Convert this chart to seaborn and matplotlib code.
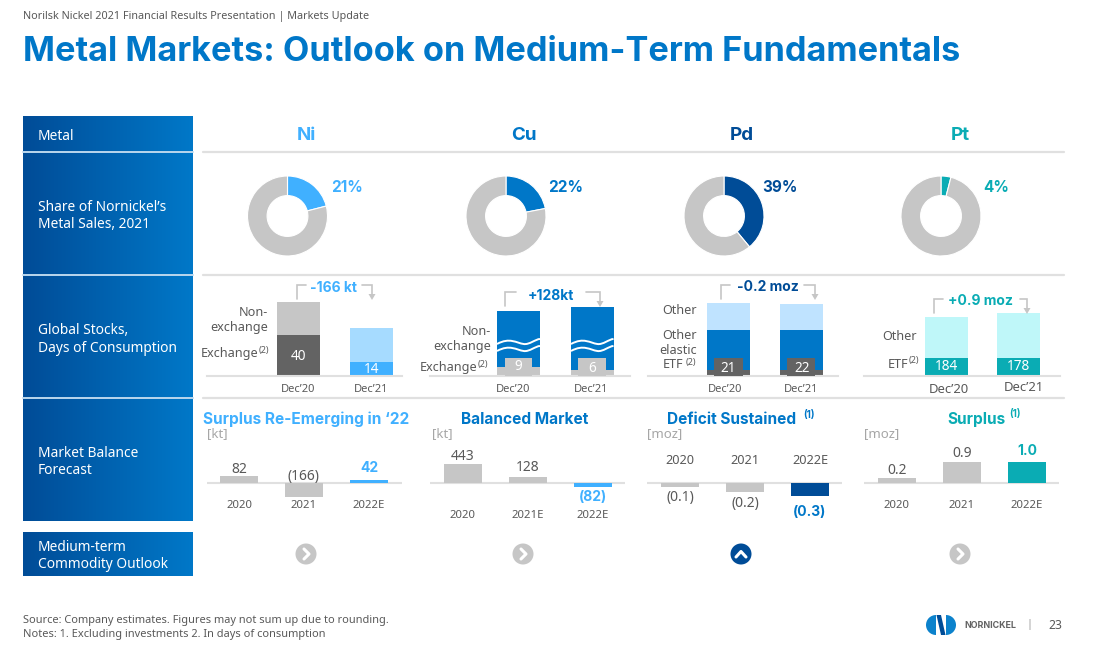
"""
Metal Markets slide: donuts, stocks stacks and balance bars per metal
Run: python plot.py
"""

import numpy as np
import matplotlib
matplotlib.use("Agg")
import matplotlib.pyplot as plt
import seaborn as sns
from matplotlib.patches import Circle, PathPatch, Polygon, Rectangle, Wedge
from matplotlib.path import Path
from matplotlib.transforms import ScaledTranslation

# ── Data ─────────────────────────────────────────────────────────────────────
metals = ["Ni", "Cu", "Pd", "Pt"]
sales_share = [21, 22, 39, 4]

stock_dates = ["Dec’20", "Dec’21"]
ni_exchange = [40, 14]
ni_non_exchange = [32, 33]
cu_exchange = [9, 6]
cu_non_exchange = [56, 63]
pd_etf = [21, 22]
pd_elastic = [148, 148]
pd_other = [100, 96]
pt_etf = [184, 178]
pt_other = [410, 455]

ni_years = ["2020", "2021", "2022E"]
cu_years = ["2020", "2021E", "2022E"]
pd_years = ["2020", "2021", "2022E"]
pt_years = ["2020", "2021", "2022E"]
ni_balance = [82, -166, 42]
cu_balance = [443, 128, -82]
pd_balance = [-0.1, -0.2, -0.3]
pt_balance = [0.2, 0.9, 1.0]
ni_balance_labels = ["82", "(166)", "42"]
cu_balance_labels = ["443", "128", "(82)"]
pd_balance_labels = ["(0.1)", "(0.2)", "(0.3)"]
pt_balance_labels = ["0.2", "0.9", "1.0"]

# ── Colours ──────────────────────────────────────────────────────────────────
C_NI = "#40B0FF"
C_CU = "#0077C8"
C_PD = "#004C97"
C_PT = "#0AACB4"
GREY = "#C6C6C6"
DARK = "#636363"
TEXT = "#595959"
RULE = "#E0E0E0"

W, H = 1109, 651

sns.set_theme(style="white")
plt.rcParams["font.family"] = ["Noto Sans", "DejaVu Sans"]

fig = plt.figure(figsize=(W / 100, H / 100), dpi=100, facecolor="white")


def px_axes(x0, y0, x1, y1, z=2):
    ax = fig.add_axes([x0 / W, 1 - y1 / H, (x1 - x0) / W, (y1 - y0) / H], zorder=z)
    ax.patch.set_visible(False)
    return ax


def overlay(z):
    ax = px_axes(0, 0, W, H, z)
    ax.set_xlim(0, W)
    ax.set_ylim(H, 0)
    ax.axis("off")
    return ax


bg = overlay(0)
fg = overlay(5)


def label(x, y, s, size=10.0, color=TEXT, ha="center", weight="normal"):
    fam = "Inter" if weight == "bold" else "Noto Sans"
    return fg.text(x, y, s, fontsize=size, color=color, ha=ha, va="center",
                   fontweight=weight, fontfamily=fam)


# ── Header ───────────────────────────────────────────────────────────────────
label(23, 16.5, "Norilsk Nickel 2021 Financial Results Presentation | Markets Update",
      size=7.8, ha="left")
label(23, 52, "Metal Markets: Outlook on Medium-Term Fundamentals", size=24.7,
      color=C_CU, ha="left", weight="bold")

# ── Left column with gradient panels ─────────────────────────────────────────
gradient = np.linspace(0, 1, 256).reshape(1, -1)
cmap = matplotlib.colors.LinearSegmentedColormap.from_list("panel", ["#004C97", "#0078C8"])
for top, bottom in [(116, 521), (532, 576)]:
    bg.imshow(gradient, extent=(23, 193, bottom, top), cmap=cmap, aspect="auto", zorder=1)
bg.set_xlim(0, W)
bg.set_ylim(H, 0)
for y in [152, 275, 398]:
    bg.plot([23, 193], [y, y], color="#BBD7EE", lw=1.4, zorder=2)
    bg.plot([203, 1064], [y, y], color=RULE, lw=1.6, zorder=2)

row_titles = [
    (136, "Metal"),
    (216, "Share of Nornickel’s\nMetal Sales, 2021"),
    (339.5, "Global Stocks,\nDays of Consumption"),
    (462, "Market Balance\nForecast"),
    (556, "Medium-term\nCommodity Outlook"),
]
for y, s in row_titles:
    fg.text(38, y, s, fontsize=9.9, color="white", ha="left", va="center", linespacing=1.27)

# ── Metal header and donuts ──────────────────────────────────────────────────
metal_colors = [C_NI, C_CU, C_PD, C_PT]
header_x = [306, 524, 742, 960]
donut_x = [287.5, 506, 724, 941]
share_x = [347.5, 565.5, 780, 996]
for name, c, hx, dx, sx, share in zip(metals, metal_colors, header_x, donut_x, share_x, sales_share):
    label(hx, 136, name, size=13.5, color=c, weight="bold")
    ax = px_axes(dx - 41, 175, dx + 41, 257)
    ax.pie([share, 100 - share], colors=[c, GREY], startangle=90, counterclock=False,
           radius=1.0, wedgeprops=dict(width=0.49, edgecolor="white", linewidth=0.8))
    ax.set_xlim(-1.025, 1.025)
    ax.set_ylim(-1.025, 1.025)
    label(sx, 187, f"{share}%", size=11, color=c, weight="bold")


# ── Global stocks stacks ─────────────────────────────────────────────────────
def stacked(x0, x1, c0, c1, bar_w, scale, layers, tick_size=8.0, pad=6, tick_dx=(0, 0), tick_dy=(0, 0)):
    """layers: list of (values, colour) from the bottom up, drawn back to front"""
    d = c1 - c0
    ax = px_axes(x0, 296, x1, 376)
    totals = np.cumsum([vals for vals, _ in layers], axis=0)
    for tot, (_, col) in zip(totals[::-1], layers[::-1]):
        sns.barplot(x=stock_dates, y=tot, color=col, saturation=1, width=bar_w / d,
                    linewidth=0, ax=ax)
    ax.set_xlim((x0 - c0) / d, (x1 - c0) / d)
    ax.set_ylim(0, 80 / scale)
    ax.set_ylabel("")
    ax.set_yticks([])
    sns.despine(ax=ax, left=True)
    ax.spines["bottom"].set_color(RULE)
    ax.spines["bottom"].set_linewidth(1.5)
    ax.tick_params(axis="x", length=0, labelsize=tick_size, labelcolor=TEXT, pad=pad)
    # the slide's date labels are not quite centred under their bars
    for lab, dx, dy in zip(ax.get_xticklabels(), tick_dx, tick_dy):
        lab.set_transform(lab.get_transform() + ScaledTranslation(dx / 100, dy / 100, fig.dpi_scale_trans))
    return ax


ni_ax = stacked(207, 402, 298.5, 371.5, 43, 1.03, [(ni_exchange, DARK), (ni_non_exchange, GREY)])
# second Ni bar has its own blues, repainted over the greys
for patch, col in zip(ni_ax.patches, [GREY, "#A6DBFF", DARK, C_NI]):
    patch.set_facecolor(col)

stacked(430, 630, 518.5, 592, 43, 1.0, [(cu_exchange, GREY), (cu_non_exchange, C_CU)], tick_dx=(-5, -1))
stacked(648, 838, 728.5, 801.5, 43, 0.27, [(pd_etf, DARK), (pd_elastic, C_CU), (pd_other, "#BFE3FF")],
        tick_dx=(-3, 0))
stacked(864, 1060, 946, 1018.5, 43, 0.1, [(pt_etf, C_PT), (pt_other, "#BFF7F9")], tick_size=9.4, pad=5,
        tick_dx=(3, 5.5), tick_dy=(0, 2))

# narrow label boxes behind the exchange figures
for x0, x1, col in [(505, 532, GREY), (578, 606, GREY), (714, 743, DARK), (787, 815, DARK)]:
    fg.add_patch(Rectangle((x0, 358), x1 - x0, 18, color=col, lw=0, zorder=1))

# white axis-break waves over the Cu bars
for x0, x1 in [(497, 540), (571, 613.5)]:
    for y in [342, 349]:
        w = x1 - x0
        verts = [(x0, y + 2), (x0 + w * 0.3, y - 5), (x0 + w * 0.45, y + 1), (x0 + w * 0.62, y + 2),
                 (x0 + w * 0.75, y + 3), (x0 + w * 0.9, y - 3), (x1, y - 3)]
        codes = [Path.MOVETO] + [Path.CURVE4] * 6
        fg.add_patch(PathPatch(Path(verts, codes), fc="none", ec="white", lw=1.4, zorder=2))

# figures on the bars
stock_figures = [
    (298.5, 357, "40"), (371.5, 369.5, "14"), (518.5, 367, "9"), (592, 369, "6"),
    (728.5, 368, "21"), (802, 368, "22"), (946, 367, "184"), (1018.5, 367, "178"),
]
for x, y, s in stock_figures:
    label(x, y, s, size=9.8, color="white")

# side captions
for x, y, s in [
    (268, 320, "Non-\nexchange"), (491, 339, "Non-\nexchange"), (697, 311, "Other"),
    (697, 343, "Other\nelastic"), (917, 336, "Other"),
]:
    fg.text(x, y, s, fontsize=9.1, color=TEXT, ha="right", va="center", linespacing=1.2)
for x, y, s in [(258, 354, "Exchange"), (477, 367, "Exchange"), (683, 365, "ETF"), (908, 364, "ETF")]:
    label(x, y, s, size=9.1, ha="right")
for x, y in [(258.5, 351), (477.5, 364), (908.5, 361), (686, 363)]:
    label(x, y, "(2)", size=6.5, ha="left")

# brackets with arrows
brackets = [
    (297, 285, 299, 306, "-166 kt", 334, 288, 362, 372, C_NI),
    (505, 292, 306, 516, "+128kt", 551, 296, 586, 600, C_CU),
    (720.5, 285, 299, 730, "-0.2 moz", 768, 287, 803.5, 815, C_PD),
    (934, 299, 313, 943, "+0.9 moz", 981, 301, 1019.5, 1027, C_PT),
]
for xl, top, low, xl2, s, tx, ty, xr, xr2, col in brackets:
    fg.plot([xl, xl, xl2], [low, top, top], color=GREY, lw=1.2, solid_joinstyle="miter")
    fg.plot([xr, xr2, xr2], [top, top, low - 4], color=GREY, lw=1.2, solid_joinstyle="miter")
    fg.add_patch(Polygon([(xr2 - 3.5, low - 5), (xr2 + 3.5, low - 5), (xr2, low + 1)], color=GREY, lw=0))
    label(tx, ty, s, size=10, color=col, weight="bold")


# ── Market balance bars ──────────────────────────────────────────────────────
def balance(x0, x1, c0, c2, years, values, texts, scale, accent, offsets, accent_text=None,
            pad=3, top_ticks=False, y0=462, y1=497):
    d = (c2 - c0) / 2
    ax = px_axes(x0, y0, x1, y1)
    sns.barplot(x=years, y=values, hue=years, palette=[GREY, GREY, accent], saturation=1,
                width=38 / d, dodge=False, linewidth=0, legend=False, ax=ax)
    ax.set_xlim((x0 - c0) / d, (x1 - c0) / d)
    ax.set_ylim(-(y1 - 483) / scale, (483 - y0) / scale)
    ax.axhline(0, color=RULE, lw=1.5, zorder=0.5)
    ax.set_xlabel("")
    ax.set_ylabel("")
    ax.set_yticks([])
    sns.despine(ax=ax, left=True, bottom=True)
    ax.tick_params(axis="x", length=0, labelsize=8.2, labelcolor=TEXT, pad=pad)
    if top_ticks:
        ax.xaxis.tick_top()
        ax.tick_params(axis="x", length=0, labelsize=9.2, labelcolor=TEXT, pad=pad)
    for i, (v, s, dy) in enumerate(zip(values, texts, offsets)):
        last = i == len(values) - 1
        ax.annotate(s, (i, v), xytext=(0, dy), textcoords="offset pixels", ha="center", va="center",
                    fontsize=10, color=(accent_text or accent) if last else TEXT,
                    fontweight="bold" if last else "normal",
                    fontfamily="Inter" if last else "Noto Sans", annotation_clip=False)
    return ax


balance(207, 402, 239, 369, ni_years, ni_balance, ni_balance_labels, 0.082, C_NI, [7, 20, 12], pad=2)
balance(430, 625, 463, 593, cu_years, cu_balance, cu_balance_labels, 0.0435, C_NI, [7, 10, -10], pad=9)
balance(647, 842, 680, 810, pd_years, pd_balance, pd_balance_labels, 44, C_PD, [-10, -12, -16],
        accent_text=C_CU, top_ticks=True, y0=468, y1=497, pad=1)
balance(864, 1059, 897, 1027, pt_years, pt_balance, pt_balance_labels, 23.3, C_PT, [8, 9, 9], pad=2)

balance_titles = [
    (306, "Surplus Re-Emerging in ‘22", C_NI),
    (525, "Balanced Market", C_CU),
    (732, "Deficit Sustained", C_CU),
    (977, "Surplus", C_PT),
]
for x, s, col in balance_titles:
    label(x, 419.5, s, size=11.1, color=col, weight="bold")
label(809, 415, "(1)", size=7, color=C_CU, weight="bold")
label(1015, 414.5, "(1)", size=7, color=C_PT, weight="bold")
for x, s in [(207, "[kt]"), (432, "[kt]"), (647, "[moz]"), (864, "[moz]")]:
    label(x, 434, s, size=9.5, color="#A6A6A6", ha="left")

# ── Outlook icons ────────────────────────────────────────────────────────────
for x, col, up in [(306, GREY, False), (523, GREY, False), (741, C_PD, True), (960, GREY, False)]:
    fg.add_patch(Circle((x, 554), 10.5, color=col, lw=0))
    pts = [(x - 5, 557), (x, 551.5), (x + 5, 557)] if up else [(x - 2, 549), (x + 3, 554), (x - 2, 559)]
    fg.plot(*zip(*pts), color="white", lw=2.2, solid_capstyle="round", solid_joinstyle="round")

# ── Footer and logo ──────────────────────────────────────────────────────────
label(23, 620.5, "Source: Company estimates. Figures may not sum up due to rounding.", size=7.95, ha="left")
label(23, 634.5, "Notes: 1. Excluding investments 2. In days of consumption", size=7.95, ha="left")

fg.add_patch(Wedge((936, 625), 10, 90, 270, color="#0C82CC", lw=0))
fg.add_patch(Wedge((946, 625), 10, 270, 90, color="#0C82CC", lw=0))
fg.add_patch(Polygon([(936.5, 615), (941, 615), (945.5, 635), (941, 635)], color=C_PD, lw=0))
label(990, 625.5, "NORNICKEL", size=6.4, color=DARK, weight="bold")
label(1029, 625, "|", size=8, color="#909090")
label(1055, 625.5, "23", size=8.8)

fig.savefig("out.png", dpi=100, facecolor="white")
plt.close(fig)
